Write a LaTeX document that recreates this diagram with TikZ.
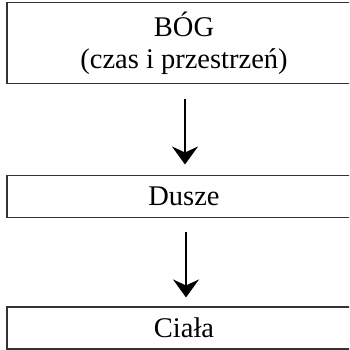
\documentclass[tikz,border=0pt]{standalone}
\usepackage{fontspec}
\setmainfont{Liberation Serif}
\usetikzlibrary{arrows.meta}
\tikzset{
  box/.style={draw=black!80, line width=1.1pt, minimum width=354pt, inner sep=0pt,
              align=center, font=\fontsize{28.5}{32}\selectfont},
  arr/.style={line width=1.8pt, -{Stealth[length=18pt,width=26pt,inset=6pt]}},
}
\begin{document}
\begin{tikzpicture}[x=1pt,y=-1pt]
  \useasboundingbox (0,0) rectangle (349,350);
  \clip (0,0) rectangle (349,350);
  % boxes run past the right edge of the page
  \node[box, minimum height=80.6pt] (god) at (184,43) {BÓG\\(czas i przestrzeń)};
  \node[box, minimum height=42.3pt] (souls) at (184,196.2) {Dusze};
  \node[box, minimum height=42pt] (bodies) at (184,328) {Ciała};
  \draw[arr] ([xshift=1pt,yshift=-15pt]god.south) -- ([xshift=1pt,yshift=10pt]souls.north);
  \draw[arr] ([xshift=2pt,yshift=-14pt]souls.south) -- ([xshift=2pt,yshift=9pt]bodies.north);
\end{tikzpicture}
\end{document}
